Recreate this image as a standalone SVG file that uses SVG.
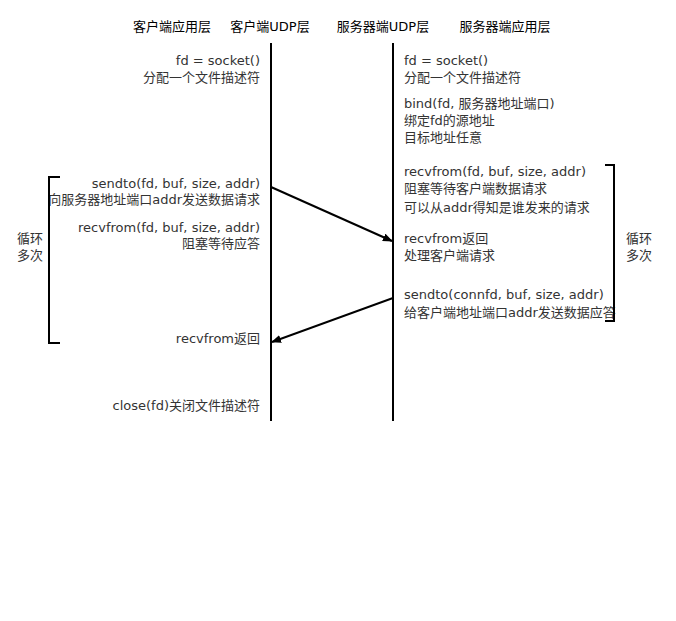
<svg xmlns="http://www.w3.org/2000/svg" width="676" height="621" viewBox="0 0 676 621">
<defs>
<style>
text{font-family:"DejaVu Sans","Noto Sans CJK SC",sans-serif;font-size:13px;fill:#333}
.h{fill:#000;text-anchor:middle}
.r{text-anchor:end}
.l{stroke:#000;stroke-width:2;fill:none}
</style>
<marker id="a" markerWidth="10" markerHeight="8" refX="9" refY="4" orient="auto" markerUnits="userSpaceOnUse"><path d="M0,0 L10,4 L0,8 Z" fill="#000"/></marker>
</defs>
<rect width="676" height="621" fill="#fff"/>
<g id="headers">
<text class="h" x="172" y="31">客户端应用层</text>
<text class="h" x="270" y="31">客户端UDP层</text>
<text class="h" x="383" y="31">服务器端UDP层</text>
<text class="h" x="505" y="31">服务器端应用层</text>
</g>
<g id="lifelines">
<line class="l" x1="271" y1="43" x2="271" y2="421"/>
<line class="l" x1="393" y1="43" x2="393" y2="421"/>
</g>
<g id="client">
<text class="r" x="260" y="65">fd = socket()</text>
<text class="r" x="260" y="82">分配一个文件描述符</text>
<text class="r" x="260" y="188">sendto(fd, buf, size, addr)</text>
<text class="r" x="260" y="204">向服务器地址端口addr发送数据请求</text>
<text class="r" x="260" y="232">recvfrom(fd, buf, size, addr)</text>
<text class="r" x="260" y="248">阻塞等待应答</text>
<text class="r" x="260" y="343">recvfrom返回</text>
<text class="r" x="260" y="410">close(fd)关闭文件描述符</text>
</g>
<g id="server">
<text x="404" y="65">fd = socket()</text>
<text x="404" y="82">分配一个文件描述符</text>
<text x="404" y="108">bind(fd, 服务器地址端口)</text>
<text x="404" y="125">绑定fd的源地址</text>
<text x="404" y="142">目标地址任意</text>
<text x="404" y="176">recvfrom(fd, buf, size, addr)</text>
<text x="404" y="193">阻塞等待客户端数据请求</text>
<text x="404" y="212">可以从addr得知是谁发来的请求</text>
<text x="404" y="243">recvfrom返回</text>
<text x="404" y="260">处理客户端请求</text>
<text x="404" y="299">sendto(connfd, buf, size, addr)</text>
<text x="404" y="317">给客户端地址端口addr发送数据应答</text>
</g>
<g id="loops">
<path class="l" d="M60,177 H49 V343 H60"/>
<text x="17" y="243">循环</text>
<text x="17" y="260">多次</text>
<path class="l" d="M605,165 H614 V321 H605"/>
<text x="626" y="243">循环</text>
<text x="626" y="260">多次</text>
</g>
<g id="connectors">
<line class="l" x1="271" y1="187" x2="392" y2="241" marker-end="url(#a)"/>
<line class="l" x1="393" y1="298" x2="272" y2="342" marker-end="url(#a)"/>
</g>
</svg>
